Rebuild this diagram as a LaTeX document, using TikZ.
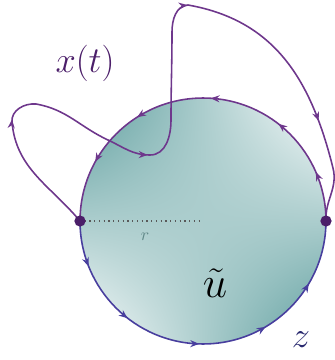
\documentclass[tikz,border=0pt]{standalone}
\usepackage{amsmath}
\usepackage{xcolor}
\usepackage{tikz}
\usetikzlibrary{arrows.meta, decorations.markings, shadings}
\definecolor{trajpurple}{RGB}{110,55,140}
\definecolor{arcblue}{RGB}{72,62,158}
\definecolor{labelpurple}{RGB}{75,30,105}
\definecolor{navy}{RGB}{40,40,110}
\definecolor{discdark}{RGB}{88,155,155}
\definecolor{rgray}{RGB}{95,135,135}

\begin{document}
\begin{tikzpicture}[x=0.02cm, y=0.02cm,
    traj/.style={trajpurple, line width=0.9pt},
    lowarc/.style={arcblue, line width=0.9pt},
    dot/.style={fill=labelpurple},
    lbl/.style={inner sep=0pt}
]
\useasboundingbox (0,0) rectangle (335,360);

\coordinate (O) at (203,139);
\coordinate (L) at (80,139);
\coordinate (R) at (326,139);

% the disc
\shade[upper left=discdark, lower right=discdark, upper right=white, lower left=white] (O) circle[radius=2.46cm];
\draw[gray!70!black, dotted, line width=0.7pt] (L) -- (O);
\node[lbl, rgray] (rlab) at (145,123) {$r$};

% boundary of the disc, counterclockwise
\draw[traj, postaction={decorate, decoration={markings,
    mark=at position 0.13 with {\arrow{Stealth[length=5pt, width=4pt]}},
    mark=at position 0.29 with {\arrow{Stealth[length=5pt, width=4pt]}},
    mark=at position 0.48 with {\arrow{Stealth[length=5pt, width=4pt]}},
    mark=at position 0.68 with {\arrow{Stealth[length=5pt, width=4pt]}},
    mark=at position 0.84 with {\arrow{Stealth[length=5pt, width=4pt]}}}}]
  (R) arc[start angle=0, end angle=180, radius=2.46cm];
\draw[lowarc, postaction={decorate, decoration={markings,
    mark=at position 0.12 with {\arrow{Stealth[length=5pt, width=4pt]}},
    mark=at position 0.29 with {\arrow{Stealth[length=5pt, width=4pt]}},
    mark=at position 0.49 with {\arrow{Stealth[length=5pt, width=4pt]}},
    mark=at position 0.67 with {\arrow{Stealth[length=5pt, width=4pt]}},
    mark=at position 0.83 with {\arrow{Stealth[length=5pt, width=4pt]}}}}]
  (L) arc[start angle=180, end angle=360, radius=2.46cm];

% the trajectory x(t)
\draw[traj, postaction={decorate, decoration={markings,
    mark=at position 0.17 with {\arrow{Stealth[length=5pt, width=4pt]}},
    mark=at position 0.38 with {\arrow{Stealth[length=5pt, width=4pt]}},
    mark=at position 0.61 with {\arrow{Stealth[length=5pt, width=4pt]}},
    mark=at position 0.86 with {\arrow{Stealth[length=5pt, width=4pt]}}}}]
  (L) to[out=130, in=-85] (12,238) to[out=95, in=175] (36,256)
      to[out=-10, in=155] (108,220) to[out=-25, in=180] (150,205)
      to[out=0, in=-90] (171,240) to[out=90, in=-90] (172,328)
      to[out=90, in=185] (188,355) to[out=-10, in=104, looseness=1.05] (333,192)
      to[out=-76, in=93] (R);

\fill[dot] (L) circle[radius=3.2pt];
\fill[dot] (R) circle[radius=3.2pt];

\node[lbl, labelpurple, font=\huge] (xt) at (85,297) {$x(t)$};
\node[lbl, font=\fontsize{30}{32}\selectfont] (ut) at (215,77) {$\tilde{u}$};
\node[lbl, navy, font=\huge] (zl) at (301,20) {$z$};
\end{tikzpicture}
\end{document}
